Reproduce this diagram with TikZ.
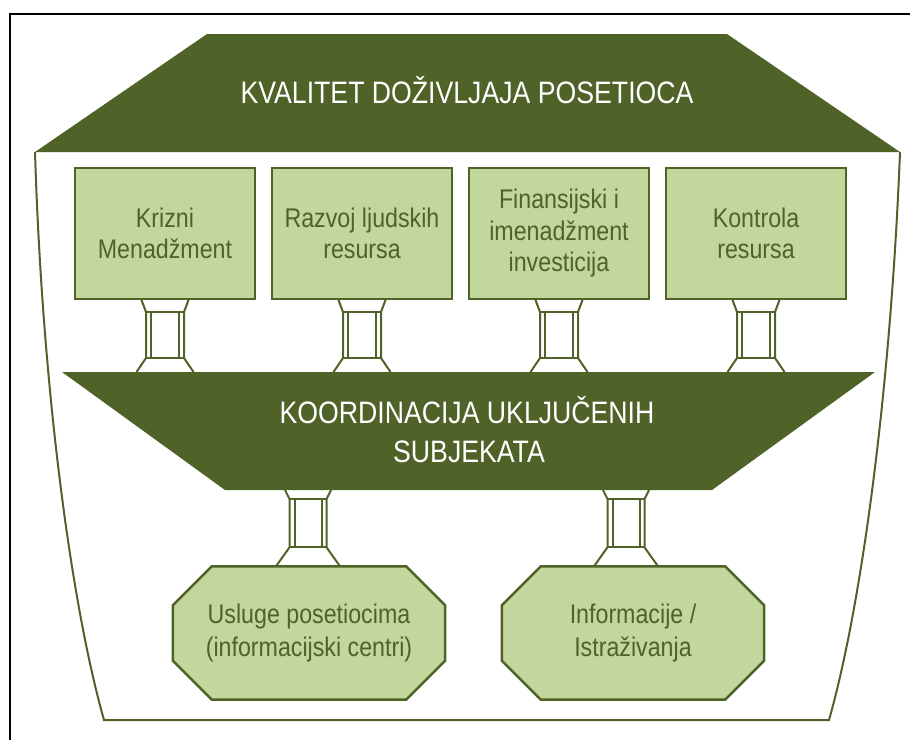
\documentclass[tikz,border=0pt]{standalone}
\usepackage{fontspec}
\setmainfont{Liberation Sans}[FakeStretch=0.86]
\usetikzlibrary{backgrounds}
\definecolor{dgreen}{HTML}{4F6228}
\definecolor{lgreen}{HTML}{C3D69B}
\tikzset{
  topbox/.style={draw=dgreen, fill=lgreen, line width=2pt, minimum width=180pt,
    minimum height=131pt, inner sep=0pt, align=center, text=dgreen,
    font=\fontsize{27}{31.5}\selectfont},
  octtext/.style={minimum height=133pt, inner sep=0pt, align=center, text=dgreen,
    font=\fontsize{27}{33}\selectfont},
  octshape/.style={draw=dgreen, fill=lgreen, line width=2.5pt, line join=miter},
  banner/.style={fill=dgreen},
  bannertext/.style={text=white, font=\fontsize{31}{39}\selectfont, inner sep=0pt, anchor=base},
  connline/.style={draw=dgreen, line width=2pt},
  houseline/.style={draw=dgreen, line width=2pt},
  frameline/.style={draw=black, line width=2pt},
}
% #1 top point, #2 bottom point, #3 top half width, #4 bar half width,
% #5 bottom half width, #6 top flare depth, #7 bottom flare depth
\newcommand\linkbar[7]{%
  \draw[connline] ([xshift=-#3pt]#1) -- ([xshift=-#4pt,yshift=-#6pt]#1)
     -- ([xshift=-#4pt,yshift=#7pt]#2) -- ([xshift=-#5pt]#2);
  \draw[connline] ([xshift=#3pt]#1) -- ([xshift=#4pt,yshift=-#6pt]#1)
     -- ([xshift=#4pt,yshift=#7pt]#2) -- ([xshift=#5pt]#2);
  \draw[connline] ([xshift=-#4pt,yshift=-#6pt]#1) -- ([xshift=#4pt,yshift=-#6pt]#1);
  \draw[connline] ([xshift=-#4pt,yshift=#7pt]#2) -- ([xshift=#4pt,yshift=#7pt]#2);
  \draw[connline] ([xshift=-#4pt+5pt,yshift=-#6pt]#1) -- ([xshift=-#4pt+5pt,yshift=#7pt]#2);
  \draw[connline] ([xshift=#4pt-5pt,yshift=-#6pt]#1) -- ([xshift=#4pt-5pt,yshift=#7pt]#2);
}
\newcommand\octagonpath[3]{% #1 node, #2 x cut, #3 y cut
  \path[octshape] ([xshift=#2pt]#1.north west) -- ([xshift=-#2pt]#1.north east)
    -- ([yshift=-#3pt]#1.north east) -- ([yshift=#3pt]#1.south east)
    -- ([xshift=-#2pt]#1.south east) -- ([xshift=#2pt]#1.south west)
    -- ([yshift=#3pt]#1.south west) -- ([yshift=-#3pt]#1.north west) -- cycle;
}
\begin{document}
\begin{tikzpicture}[x=1pt,y=-1pt]
\useasboundingbox (0,0) rectangle (910,740);
% outer frame
\draw[frameline] (9.5,740) -- (9.5,13.5) -- (910,13.5);
% house outline
\draw[houseline] (35,152) .. controls (42,380) and (70,600) .. (104,720)
   -- (829,720) .. controls (863,600) and (891,380) .. (900,152);
% banners
\fill[banner] (207,34) -- (727,34) -- (900,152) -- (35,152) -- cycle;
\fill[banner] (62,372) -- (875,372) -- (712,490) -- (225,490) -- cycle;
\coordinate (mtl) at (62,372);
\coordinate (mbl) at (225,490);
\node[bannertext] (title) at (467,103) {KVALITET DOŽIVLJAJA POSETIOCA};
\node[bannertext] (mid1) at (467,423) {KOORDINACIJA UKLJUČENIH};
\node[bannertext] (mid2) at (469,462) {SUBJEKATA};
% top boxes
\node[topbox] (k1) at (165,233.5) {Krizni\\Menadžment};
\node[topbox] (k2) at (362,233.5) {Razvoj ljudskih\\resursa};
\node[topbox] (k3) at (559,233.5) {Finansijski i\\imenadžment\\investicija};
\node[topbox] (k4) at (756,233.5) {Kontrola\\resursa};
% bottom octagons
\node[octtext, minimum width=272pt] (o1) at (309,633) {Usluge posetiocima\\(informacijski centri)};
\node[octtext, minimum width=262pt] (o2) at (633,633) {Informacije /\\Istraživanja};
\begin{pgfonlayer}{background}
  \octagonpath{o1}{39}{39}
  \octagonpath{o2}{39}{39}
\end{pgfonlayer}
% connectors top boxes -> middle banner
\foreach \k in {k1,k2,k3,k4}{
  \coordinate (\k b) at (\k.south |- mtl);
}
\linkbar{k1.south}{k1b}{23.5}{19}{28.5}{12}{14}
\linkbar{k2.south}{k2b}{23.5}{19}{28.5}{12}{14}
\linkbar{k3.south}{k3b}{23.5}{19}{28.5}{12}{14}
\linkbar{k4.south}{k4b}{23.5}{19}{28.5}{12}{14}
% connectors middle banner -> octagons
\coordinate (d1b) at ([xshift=-1pt]o1.north);
\coordinate (d1t) at (d1b |- mbl);
\coordinate (d2b) at ([xshift=-7pt]o2.north);
\coordinate (d2t) at (d2b |- mbl);
\linkbar{d1t}{d1b}{23}{18.5}{32}{9}{19}
\linkbar{d2t}{d2b}{23}{18.5}{32}{9}{19}
\end{tikzpicture}
\end{document}
